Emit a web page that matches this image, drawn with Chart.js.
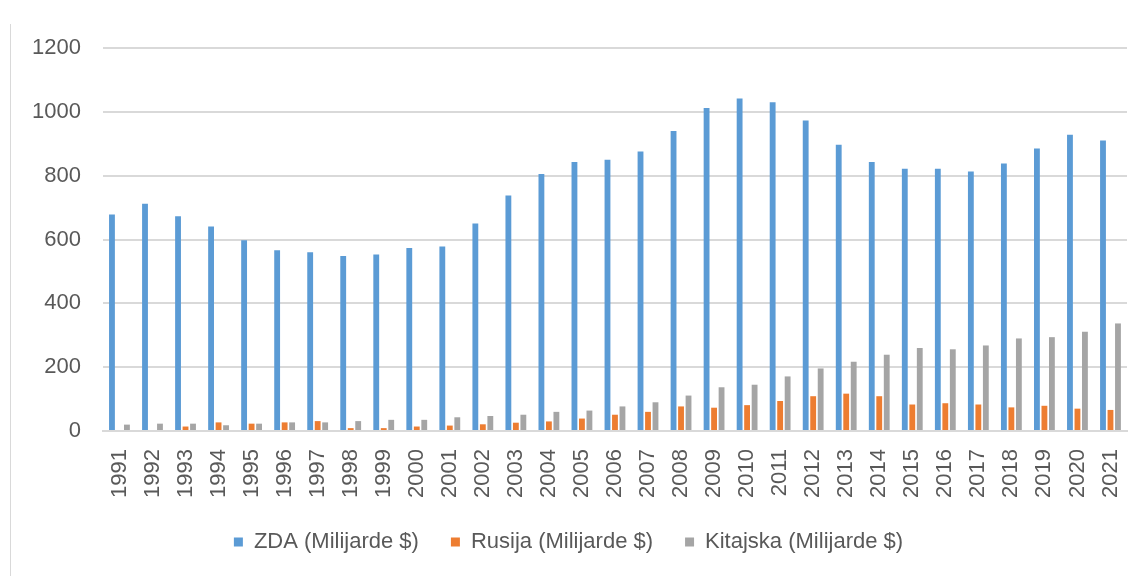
<!DOCTYPE html>
<html>
<head>
<meta charset="utf-8">
<script src="https://cdn.jsdelivr.net/npm/chart.js@4/dist/chart.umd.min.js"></script>
<style>
  html, body { margin: 0; padding: 0; background: #fff; }
  #wrap { position: relative; width: 1144px; height: 576px; }
  #edge { position: absolute; left: 10px; top: 24px; width: 1px; height: 552px; background: #d9d9d9; }
</style>
</head>
<body>
<div id="wrap">
  <div id="edge"></div>
  <canvas id="chart" width="1144" height="576"></canvas>
</div>
<script>
// years on the x axis
const years = ['1991','1992','1993','1994','1995','1996','1997','1998','1999','2000','2001',
  '2002','2003','2004','2005','2006','2007','2008','2009','2010','2011',
  '2012','2013','2014','2015','2016','2017','2018','2019','2020','2021'];

const zda = [678, 712, 673, 641, 598, 566, 560, 548, 553, 573, 578,
  650, 738, 805, 843, 850, 876, 940, 1012, 1042, 1030,
  973, 897, 843, 822, 822, 813, 838, 885, 928, 910];

const rusija = [null, null, 14, 27, 23, 27, 31, 9, 9, 14, 17,
  21, 26, 30, 39, 51, 60, 77, 73, 81, 94,
  109, 117, 109, 83, 87, 83, 74, 79, 70, 66];

const kitajska = [20, 23, 23, 18, 23, 27, 27, 31, 35, 35, 43,
  47, 51, 60, 64, 77, 90, 111, 137, 145, 171,
  196, 217, 239, 260, 256, 268, 290, 294, 311, 337];

const seriesNames = ['ZDA (Milijarde $)', 'Rusija (Milijarde $)', 'Kitajska (Milijarde $)'];
const yTicks = [0, 200, 400, 600, 800, 1000, 1200];

const FONT = '"Liberation Sans", Arial, sans-serif';
const textColor = '#595959';

const ctx = document.getElementById('chart');
new Chart(ctx, {
  type: 'bar',
  data: {
    labels: years,
    datasets: [
      { label: seriesNames[0], data: zda, backgroundColor: '#5b9bd5' },
      { label: seriesNames[1], data: rusija, backgroundColor: '#ed7d31' },
      { label: seriesNames[2], data: kitajska, backgroundColor: '#a5a5a5' }
    ]
  },
  options: {
    responsive: false,
    animation: false,
    datasets: {
      bar: { categoryPercentage: 0.68, barPercentage: 0.78 }
    },
    layout: { padding: { top: 48, right: 17, left: 10, bottom: 13 } },
    plugins: {
      legend: {
        position: 'bottom',
        labels: {
          color: textColor,
          font: { family: FONT, size: 22 },
          boxWidth: 9,
          boxHeight: 9,
          padding: 32
        }
      },
      tooltip: { enabled: false }
    },
    scales: {
      x: {
        grid: { display: false, drawTicks: false },
        border: { color: '#d9d9d9', width: 2 },
        ticks: {
          color: textColor,
          font: { family: FONT, size: 22 },
          minRotation: 90,
          maxRotation: 90,
          autoSkip: false,
          padding: 18
        },
        // labels sit close to the legend, like the original
        afterFit: (scale) => {
          scale.height = 68;
          scale.paddingRight = 0;
        }
      },
      y: {
        min: 0,
        max: 1200,
        afterBuildTicks: (axis) => { axis.ticks = yTicks.map(v => ({ value: v })); },
        grid: { color: '#d9d9d9', lineWidth: 2, drawTicks: false },
        border: { display: false },
        ticks: {
          color: textColor,
          font: { family: FONT, size: 22 },
          padding: 22,
          callback: (v) => String(v)
        }
      }
    }
  }
});
</script>
</body>
</html>
